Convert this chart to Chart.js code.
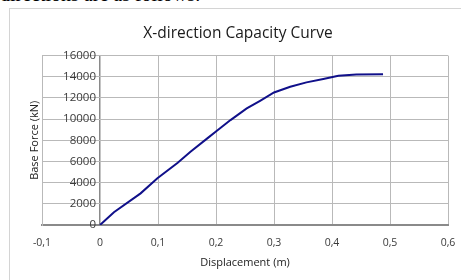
<!DOCTYPE html>
<html>
<head>
<meta charset="utf-8">
<script src="https://cdn.jsdelivr.net/npm/chart.js@4.4.1/dist/chart.umd.min.js"></script>
<style>
  html, body { margin: 0; padding: 0; width: 461px; height: 280px; overflow: hidden; background: #fff; }
  #doc { position: absolute; left: 0; top: -16px; font: 20px/20px "Liberation Serif", serif; color: #000; white-space: nowrap; }
  #frame { position: absolute; left: 9px; top: 8px; width: 480px; height: 300px; border: 1px solid #d4d4d4; }
  #chart { position: absolute; left: 0; top: 0; }
</style>
</head>
<body>
<div id="doc">directions are as follows:</div>
<div id="frame"></div>
<canvas id="chart" width="476" height="280"></canvas>
<script>
// Kapasiteettikäyrän pisteet luettu kuvasta
const displacement = [0, 0.024, 0.070, 0.099, 0.134, 0.156, 0.185, 0.201, 0.225, 0.253, 0.276, 0.300, 0.328, 0.356, 0.385, 0.411, 0.442, 0.488];
const baseForce = [0, 1200, 2990, 4410, 5880, 6920, 8180, 8870, 9910, 11010, 11730, 12520, 13060, 13470, 13780, 14090, 14220, 14250];

const xTicks = [-0.1, 0, 0.1, 0.2, 0.3, 0.4, 0.5, 0.6];
const yTicks = [0, 2000, 4000, 6000, 8000, 10000, 12000, 14000, 16000];

const points = displacement.map((d, i) => ({ x: d, y: baseForce[i] }));

const gridColor = '#b9b9b9';
const textColor = '#3a3a3a';
const fontFamily = '"Open Sans", "Noto Sans", sans-serif';

function fmtX(v) {
    if (Math.abs(v) < 1e-9) return '0';
    return v.toFixed(1).replace('.', ',');
}

// Y-akselin luvut piirretään x = 0 -viivan viereen, kuten Excelissä
const yLabelsPlugin = {
    id: 'yLabels',
    afterDraw(chart) {
        const { ctx, scales } = chart;
        const x0 = scales.x.getPixelForValue(0);
        ctx.save();
        ctx.font = '11.5px ' + fontFamily;
        ctx.fillStyle = textColor;
        ctx.textAlign = 'right';
        ctx.textBaseline = 'middle';
        yTicks.forEach(t => {
            ctx.fillText(String(t), x0 - 4, scales.y.getPixelForValue(t));
        });
        ctx.restore();
    }
};

const ctx = document.getElementById('chart').getContext('2d');

const capacityChart = new Chart(ctx, {
    type: 'scatter',
    data: {
        datasets: [{
            label: 'Capacity',
            data: points,
            showLine: true,
            borderColor: '#10108a',
            borderWidth: 2,
            pointRadius: 0,
            tension: 0
        }]
    },
    options: {
        responsive: false,
        animation: false,
        layout: { padding: { left: 28, right: 28, top: 0, bottom: 0 } },
        scales: {
            x: {
                type: 'linear',
                min: -0.1,
                max: 0.6,
                afterBuildTicks: scale => { scale.ticks = xTicks.map(v => ({ value: v })); },
                afterFit: scale => { scale.height = 55; },
                grid: {
                    drawTicks: false,
                    color: c => (c.tick && Math.abs(c.tick.value) < 1e-9) ? '#8a8a8a' : gridColor,
                    lineWidth: c => (c.tick && Math.abs(c.tick.value) < 1e-9) ? 1.5 : 1
                },
                border: { color: '#8a8a8a', width: 2 },
                ticks: {
                    padding: 12,
                    color: textColor,
                    font: { family: fontFamily, size: 10.5 },
                    callback: v => fmtX(v)
                },
                title: {
                    display: true,
                    text: 'Displacement (m)',
                    color: '#222',
                    font: { family: fontFamily, size: 11 },
                    padding: { top: 0, bottom: 11 }
                }
            },
            y: {
                min: 0,
                max: 16000,
                afterBuildTicks: scale => { scale.ticks = yTicks.map(v => ({ value: v })); },
                afterFit: scale => { scale.width = 14; },
                grid: { drawTicks: false, color: gridColor },
                border: { color: gridColor, width: 1 },
                ticks: { display: false },
                title: {
                    display: true,
                    text: 'Base Force (kN)',
                    color: '#222',
                    font: { family: fontFamily, size: 11 },
                    padding: { top: 0, bottom: 0 }
                }
            }
        },
        plugins: {
            legend: { display: false },
            tooltip: { enabled: false },
            title: {
                display: true,
                text: 'X-direction Capacity Curve',
                color: '#1a1a1a',
                font: { family: fontFamily, size: 15.5, weight: 'normal' },
                padding: { top: 24, bottom: 13 }
            }
        }
    },
    plugins: [yLabelsPlugin]
});
</script>
</body>
</html>
